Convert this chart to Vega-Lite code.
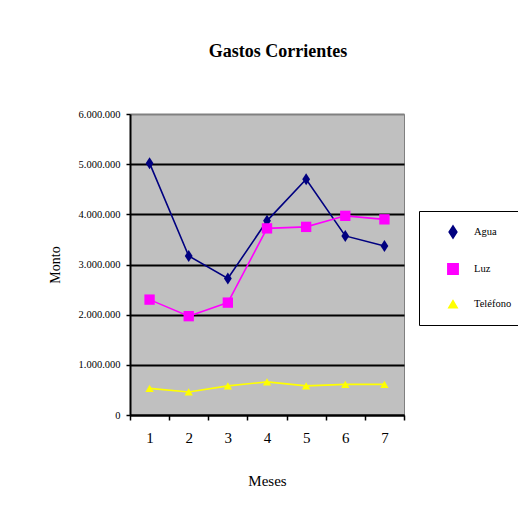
{
  "$schema": "https://vega.github.io/schema/vega-lite/v6.json",
  "width": 274,
  "height": 301,
  "autosize": {"type": "none"},
  "padding": {"left": 130, "top": 114, "right": 114, "bottom": 108},
  "background": "white",
  "title": {
    "text": "Gastos Corrientes",
    "font": "Liberation Serif",
    "fontSize": 18,
    "fontWeight": "bold",
    "color": "black",
    "anchor": "middle",
    "baseline": "alphabetic",
    "dx": 11,
    "offset": 34
  },
  "data": {
    "values": [
      {"mes": "1", "serie": "Agua", "monto": 5020000},
      {"mes": "2", "serie": "Agua", "monto": 3170000},
      {"mes": "3", "serie": "Agua", "monto": 2720000},
      {"mes": "4", "serie": "Agua", "monto": 3870000},
      {"mes": "5", "serie": "Agua", "monto": 4700000},
      {"mes": "6", "serie": "Agua", "monto": 3570000},
      {"mes": "7", "serie": "Agua", "monto": 3370000},
      {"mes": "1", "serie": "Luz", "monto": 2300000},
      {"mes": "2", "serie": "Luz", "monto": 1970000},
      {"mes": "3", "serie": "Luz", "monto": 2240000},
      {"mes": "4", "serie": "Luz", "monto": 3720000},
      {"mes": "5", "serie": "Luz", "monto": 3750000},
      {"mes": "6", "serie": "Luz", "monto": 3970000},
      {"mes": "7", "serie": "Luz", "monto": 3900000},
      {"mes": "1", "serie": "Teléfono", "monto": 530000},
      {"mes": "2", "serie": "Teléfono", "monto": 460000},
      {"mes": "3", "serie": "Teléfono", "monto": 580000},
      {"mes": "4", "serie": "Teléfono", "monto": 660000},
      {"mes": "5", "serie": "Teléfono", "monto": 580000},
      {"mes": "6", "serie": "Teléfono", "monto": 610000},
      {"mes": "7", "serie": "Teléfono", "monto": 610000}
    ]
  },
  "encoding": {
    "x": {
      "field": "mes",
      "type": "ordinal",
      "bandPosition": 0.5,
      "scale": {"type": "band", "paddingInner": 0, "paddingOuter": 0},
      "axis": {
        "title": "Meses",
        "labelAngle": 0,
        "tickBand": "extent",
        "domainColor": "black",
        "domainWidth": 2,
        "tickColor": "black",
        "tickWidth": 1.5,
        "tickSize": 5,
        "labelFont": "Liberation Serif",
        "labelFontSize": 15,
        "labelColor": "black",
        "labelPadding": 10,
        "titleFont": "Liberation Serif",
        "titleFontSize": 15,
        "titleFontWeight": "normal",
        "titleColor": "black",
        "titlePadding": 28,
        "grid": false
      }
    },
    "y": {
      "field": "monto",
      "type": "quantitative",
      "scale": {"domain": [0, 6000000], "nice": false},
      "axis": {
        "title": "Monto",
        "values": [0, 1000000, 2000000, 3000000, 4000000, 5000000, 6000000],
        "format": ",.0f",
        "domainColor": "black",
        "domainWidth": 2,
        "tickColor": "black",
        "tickWidth": 1.5,
        "tickSize": 4,
        "labelFont": "Liberation Serif",
        "labelFontSize": 10.5,
        "labelColor": "black",
        "labelPadding": 6,
        "titleFont": "Liberation Serif",
        "titleFontSize": 14,
        "titleFontWeight": "normal",
        "titleColor": "black",
        "titlePadding": 16,
        "grid": true,
        "gridColor": {"condition": {"test": "datum.value == 6000000", "value": "#808080"}, "value": "black"},
        "gridWidth": 1.8,
        "gridOpacity": 1
      }
    },
    "color": {
      "field": "serie",
      "type": "nominal",
      "scale": {"domain": ["Agua", "Luz", "Teléfono"], "range": ["#000080", "#FF00FF", "#FFFF00"]},
      "legend": {
        "title": null,
        "orient": "none",
        "legendX": 289,
        "legendY": 97,
        "fillColor": "white",
        "strokeColor": "black",
        "padding": 14,
        "rowPadding": 19,
        "symbolSize": 64,
        "symbolOffset": 13,
        "labelOffset": 14,
        "labelFont": "Liberation Serif",
        "labelFontSize": 10.5,
        "labelColor": "black"
      }
    }
  },
  "layer": [
    {
      "mark": {"type": "line", "strokeWidth": 1.6},
      "encoding": {}
    },
    {
      "mark": {"type": "point", "filled": true, "opacity": 1},
      "encoding": {
        "shape": {
          "field": "serie",
          "type": "nominal",
          "scale": {"domain": ["Agua", "Luz", "Teléfono"], "range": ["M0,-1L0.65,0L0,1L-0.65,0Z", "square", "triangle-up"]},
          "legend": null
        },
        "size": {
          "field": "serie",
          "type": "nominal",
          "scale": {"domain": ["Agua", "Luz", "Teléfono"], "range": [144, 70, 115]},
          "legend": null
        }
      }
    }
  ],
  "config": {
    "locale": {"number": {"decimal": ",", "thousands": ".", "grouping": [3], "currency": ["$", ""]}},
    "view": {"fill": "#C0C0C0", "stroke": "#808080", "strokeWidth": 1}
  }
}
